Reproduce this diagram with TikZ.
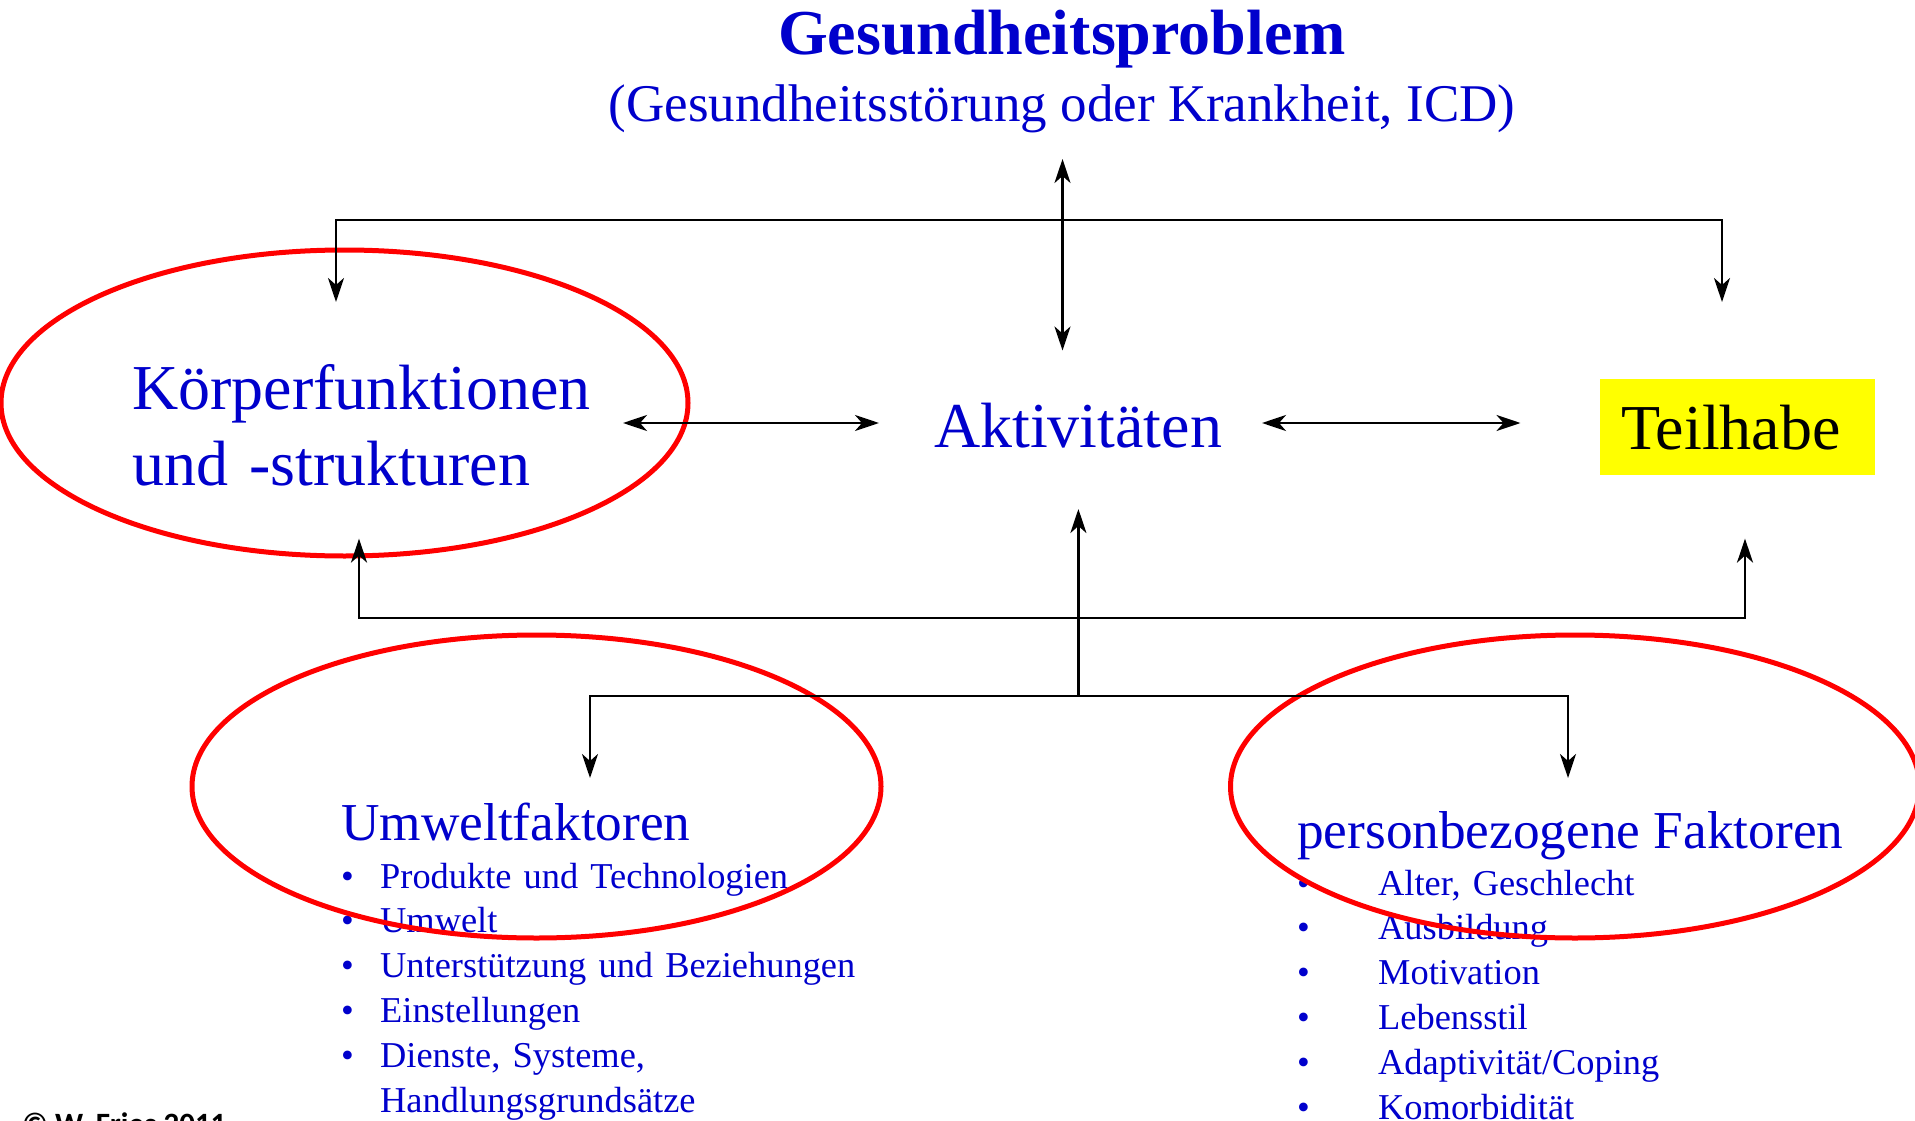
\documentclass[tikz,border=0pt]{standalone}
\usepackage{fontspec}
\setmainfont{Liberation Serif}
\newfontfamily\carlfont{Carlito}
\usetikzlibrary{arrows.meta}
\definecolor{icfblue}{RGB}{0,0,204}
\definecolor{icfred}{RGB}{255,0,0}
\definecolor{icfyellow}{RGB}{255,255,0}
\begin{document}
\begin{tikzpicture}[x=1pt,y=-1pt,
  txt/.style={inner sep=0pt, text=icfblue},
  conn/.style={draw=black, line width=2.8pt},
  onehead/.style={conn, -{Stealth[length=24pt,width=16pt,inset=7pt]}},
  twohead/.style={conn, {Stealth[length=24pt,width=16pt,inset=7pt]}-{Stealth[length=24pt,width=16pt,inset=7pt]}},
  ring/.style={draw=icfred, line width=5pt},
  bigfont/.style={font=\fontsize{64}{76}\selectfont},
  midfont/.style={font=\fontsize{53.3}{60}\selectfont},
  listfont/.style={font=\fontsize{36.4}{44.8}\selectfont}]
\useasboundingbox (0,0) rectangle (1915,1121);

% titles
\node[txt, anchor=base, font=\bfseries\fontsize{64}{64}\selectfont] (gp) at (1062,55) {Gesundheitsproblem};
\node[txt, anchor=base, font=\fontsize{53}{53}\selectfont] (gpsub) at (1062,122) {(Gesundheitsstörung oder Krankheit, ICD)};

% main row
\node[txt, bigfont, anchor=base west, text width=600pt, align=left] (kf) at (132,409) {Körperfunktionen\\und -strukturen};
\node[txt, bigfont, anchor=base] (akt) at (1078,447) {Aktivitäten};
\node[fill=icfyellow, text=black, bigfont, anchor=north west, inner xsep=21pt, inner ysep=0pt,
      text width=233pt, minimum height=96pt] (teil) at (1600,379) {Teilhabe};

% context factors
\node[txt, midfont, anchor=base west] (umw) at (341,840) {Umweltfaktoren};
\node[txt, midfont, anchor=base west] (pers) at (1297,848) {personbezogene Faktoren};
\node[txt, listfont, anchor=base west, text width=700pt, align=left] (umwlist) at (341,888)
 {\makebox[39pt][l]{•}Produkte und Technologien\\
  \makebox[39pt][l]{•}Umwelt\\
  \makebox[39pt][l]{•}Unterstützung und Beziehungen\\
  \makebox[39pt][l]{•}Einstellungen\\
  \makebox[39pt][l]{•}Dienste, Systeme,\\
  \hspace*{39pt}Handlungsgrundsätze};
\node[txt, listfont, anchor=base west, text width=600pt, align=left] (perslist) at (1297,895)
 {\makebox[81pt][l]{•}Alter, Geschlecht\\
  \makebox[81pt][l]{•}Ausbildung\\
  \makebox[81pt][l]{•}Motivation\\
  \makebox[81pt][l]{•}Lebensstil\\
  \makebox[81pt][l]{•}Adaptivität/Coping\\
  \makebox[81pt][l]{•}Komorbidität};

\node[inner sep=0pt, anchor=base west, font=\carlfont\bfseries\fontsize{31}{31}\selectfont] (copy) at (22,1134) {© W. Fries 2011};

% red ellipses
\draw[ring] (344.5,403) ellipse [x radius=343.5, y radius=153];
\draw[ring] (536.5,786.5) ellipse [x radius=344.5, y radius=151.5];
\draw[ring] (1575,786.5) ellipse [x radius=344.5, y radius=151.5];

% junction and end coordinates
\coordinate (topbar) at (1062.5,220);
\coordinate (kfin) at (336,302);
\coordinate (teilin) at (1722,302);
\coordinate (gpend) at (1062.5,159);
\coordinate (aktend) at (1062.5,350.5);
\coordinate (kfright) at (623,423);
\coordinate (aktleft) at (879,423);
\coordinate (aktright) at (1262,423);
\coordinate (teilleft) at (1520.5,423);
\coordinate (midbar) at (1078.4,618);
\coordinate (kfbelow) at (359,538.6);
\coordinate (teilbelow) at (1745,538.6);
\coordinate (botbar) at (1078.4,696);
\coordinate (aktbelow) at (1078.4,509);
\coordinate (umwin) at (590,778);
\coordinate (persin) at (1568,778);

% connectors
\draw[twohead] (gpend) -- (aktend);
\draw[onehead] (topbar) -| (kfin);
\draw[onehead] (topbar) -| (teilin);
\draw[twohead] (kfright) -- (aktleft);
\draw[twohead] (aktright) -- (teilleft);
\draw[onehead] (botbar) -- (aktbelow);
\draw[onehead] (midbar) -| (kfbelow);
\draw[onehead] (midbar) -| (teilbelow);
\draw[onehead] (botbar) -| (umwin);
\draw[onehead] (botbar) -| (persin);
\end{tikzpicture}
\end{document}
